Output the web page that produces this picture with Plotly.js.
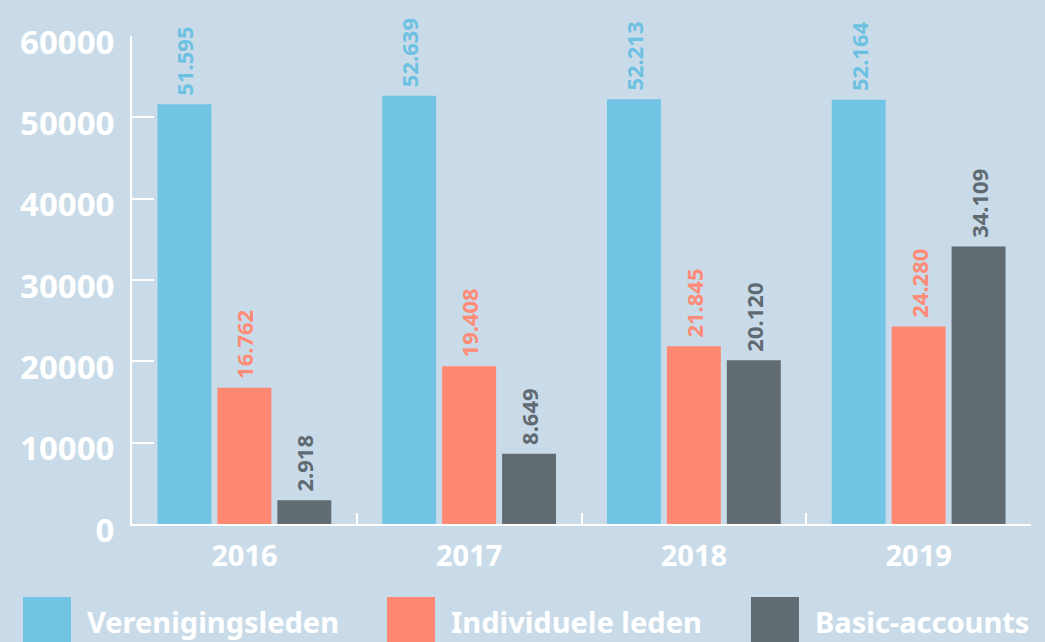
<!DOCTYPE html>
<html>
<head>
<meta charset="utf-8">
<script src="https://cdn.plot.ly/plotly-3.0.1.min.js"></script>
<style>
  html, body { margin: 0; padding: 0; background: #c9dbe8; }
  #chart { width: 1045px; height: 642px; }
</style>
</head>
<body>
<div id="chart"></div>
<script>
// ---- Data ----
const years = ['2016', '2017', '2018', '2019'];
const seriesNames = ['Verenigingsleden', 'Individuele leden', 'Basic-accounts'];
const verenigingsleden = [51595, 52639, 52213, 52164];
const individueleLeden = [16762, 19408, 21845, 24280];
const basicAccounts = [2918, 8649, 20120, 34109];
const yTicks = [0, 10000, 20000, 30000, 40000, 50000, 60000];

// ---- Styles ----
const barColors = ['#72c4e5', '#ff8873', '#606b72'];
const textColors = ['#6cc1e3', '#ff8a75', '#5f6a72'];
const FONT = '"Noto Sans", "Open Sans", sans-serif';
const BG = '#c9dbe8';

function fmt(v) {
  return String(v).replace(/\B(?=(\d{3})+(?!\d))/g, '.');
}

const seriesValues = [verenigingsleden, individueleLeden, basicAccounts];
const traces = seriesValues.map((vals, i) => ({
  type: 'bar',
  name: seriesNames[i],
  x: years,
  y: vals,
  marker: { color: barColors[i] },
  text: vals.map(v => '\u00a0' + fmt(v)),
  textposition: 'outside',
  textangle: -90,
  cliponaxis: false,
  constraintext: 'none',
  textfont: { family: FONT, size: 22, color: textColors[i], weight: 700 },
  hoverinfo: 'x+y',
  showlegend: false
}));

// Plot area in pixels
const L = 132, R = 1031, T = 36, B = 524;
const W = R - L, H = B - T;
const px = x => (x - L) / W;
const py = y => (B - y) / H;

// Custom legend (large swatches)
const legendItems = [
  { sq: 23, tx: 85 },
  { sq: 387, tx: 449 },
  { sq: 751, tx: 813 }
];
const shapes = legendItems.map((it, i) => ({
  type: 'rect', xref: 'paper', yref: 'paper',
  x0: px(it.sq), x1: px(it.sq + 48),
  y0: py(597), y1: py(646),
  fillcolor: barColors[i], line: { width: 0 }
}));
const annotations = legendItems.map((it, i) => ({
  xref: 'paper', yref: 'paper',
  x: px(it.tx), y: py(621),
  xanchor: 'left', yanchor: 'middle',
  text: seriesNames[i], showarrow: false,
  font: { family: FONT, size: 29, color: '#ffffff', weight: 700 }
}));

const layout = {
  width: 1045, height: 642,
  margin: { l: L, r: 1045 - R, t: T, b: 642 - B, pad: 0 },
  paper_bgcolor: BG, plot_bgcolor: BG,
  barmode: 'group',
  bargap: 0.2,
  bargroupgap: 0.1,
  showlegend: false,
  font: { family: FONT, color: '#ffffff' },
  xaxis: {
    type: 'category',
    tickson: 'boundaries',
    ticks: 'inside', ticklen: 11, tickwidth: 2, tickcolor: '#ffffff',
    showline: true, linecolor: '#ffffff', linewidth: 2,
    showgrid: false, zeroline: false,
    tickfont: { family: FONT, size: 29, color: '#ffffff', weight: 700 },
    ticklabelstandoff: 5
  },
  yaxis: {
    range: [0, 60000],
    tickvals: yTicks,
    ticktext: yTicks.map(String),
    ticks: 'inside', ticklen: 22, tickwidth: 2, tickcolor: '#ffffff',
    showline: true, linecolor: '#ffffff', linewidth: 2,
    showgrid: false, zeroline: false,
    tickfont: { family: FONT, size: 33, color: '#ffffff', weight: 700 },
    ticklabelstandoff: 9,
    ticklabelshift: 6
  },
  shapes: shapes,
  annotations: annotations
};

Plotly.newPlot('chart', traces, layout, { displayModeBar: false, staticPlot: true });
</script>
</body>
</html>
